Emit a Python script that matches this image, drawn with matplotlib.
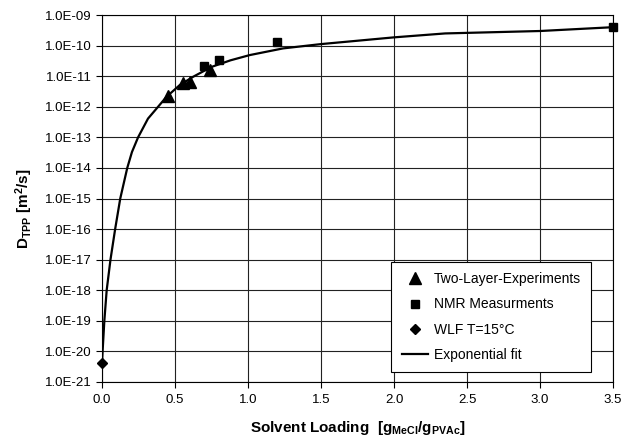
import matplotlib
matplotlib.use("Agg")
import matplotlib.pyplot as plt
from matplotlib.ticker import FixedLocator, FuncFormatter, NullLocator

plt.rcParams['font.family'] = ['Liberation Sans', 'DejaVu Sans']
plt.rcParams['mathtext.fontset'] = 'custom'
plt.rcParams['mathtext.rm'] = 'Liberation Sans'
plt.rcParams['mathtext.bf'] = 'Liberation Sans:bold'
plt.rcParams['mathtext.it'] = 'Liberation Sans:italic'

# two-layer experiments
tl_x = [0.452, 0.555, 0.60, 0.742]
tl_y = [2.3e-12, 6.2e-12, 6.6e-12, 1.6e-11]

# NMR measurements
nmr_x = [0.70, 0.80, 1.20, 3.50]
nmr_y = [2.1e-11, 3.3e-11, 1.3e-10, 4.2e-10]

# WLF T=15C
wlf_x = [0.0]
wlf_y = [4.2e-21]

# exponential fit
fit_x = [0.0, 0.004, 0.016, 0.032, 0.058, 0.090, 0.125, 0.173, 0.205, 0.247,
         0.315, 0.384, 0.441, 0.532, 0.623, 0.749, 0.88, 1.012, 1.24, 1.5,
         2.0, 2.35, 3.0, 3.5]
fit_y = [4.2e-21, 1e-20, 1e-19, 1e-18, 1e-17, 1e-16, 1e-15, 1e-14, 3.3e-14, 1e-13,
         4.1e-13, 1e-12, 2.1e-12, 5.1e-12, 9.5e-12, 2.0e-11, 3.3e-11, 4.9e-11,
         8.1e-11, 1.12e-10, 1.86e-10, 2.5e-10, 3.0e-10, 4.0e-10]

x_ticks = [0.0, 0.5, 1.0, 1.5, 2.0, 2.5, 3.0, 3.5]
y_ticks = [10.0 ** e for e in range(-21, -8)]

fig = plt.figure(figsize=(6.32, 4.43), dpi=100)
ax = fig.add_axes([0.1614, 0.1377, 0.8086, 0.8284])

ax.plot(tl_x, tl_y, linestyle='none', marker='^', ms=8.5, color='black',
        label='Two-Layer-Experiments', zorder=4)
ax.plot(nmr_x, nmr_y, linestyle='none', marker='s', ms=6, color='black',
        label='NMR Measurments', zorder=4, clip_on=False)
ax.plot(wlf_x, wlf_y, linestyle='none', marker='D', ms=5, color='black',
        label='WLF T=15°C', zorder=4, clip_on=False)
ax.plot(fit_x, fit_y, color='black', lw=1.6, label='Exponential fit', zorder=3)

ax.set_yscale('log')
ax.set_xlim(0, 3.5)
ax.set_ylim(1e-21, 1e-9)
ax.xaxis.set_major_locator(FixedLocator(x_ticks))
ax.yaxis.set_major_locator(FixedLocator(y_ticks))
ax.yaxis.set_minor_locator(NullLocator())
ax.xaxis.set_major_formatter(FuncFormatter(lambda v, p: f"{v:.1f}"))
ax.yaxis.set_major_formatter(FuncFormatter(lambda v, p: f"{v:.1E}"))
ax.tick_params(axis='both', direction='out', length=4, width=0.8, labelsize=9.5,
               color='black')
ax.tick_params(axis='x', pad=5)
ax.tick_params(axis='y', pad=3.5)
ax.grid(True, color='#222222', lw=0.8)
for s in ax.spines.values():
    s.set_color('black')
    s.set_linewidth(0.8)

ax.set_xlabel(r'Solvent Loading  [$\mathbf{g_{MeCl}/g_{PVAc}}$]',
              fontsize=11, fontweight='bold')
ax.set_ylabel(r'$\mathbf{D_{TPP}}$ [m$^{\mathbf{2}}$/s]', fontsize=11, fontweight='bold')
ax.xaxis.set_label_coords(0.5, -0.1)
ax.yaxis.set_label_coords(-0.132, 0.473)

leg = ax.legend(loc='lower right', bbox_to_anchor=(0.957, 0.027), fontsize=10,
                frameon=True, fancybox=False, edgecolor='black', framealpha=1,
                labelspacing=0.8, handlelength=1.9, handletextpad=0.4,
                borderpad=0.75, borderaxespad=0)
leg.get_frame().set_linewidth(0.8)

fig.savefig('out.png', dpi=100)
